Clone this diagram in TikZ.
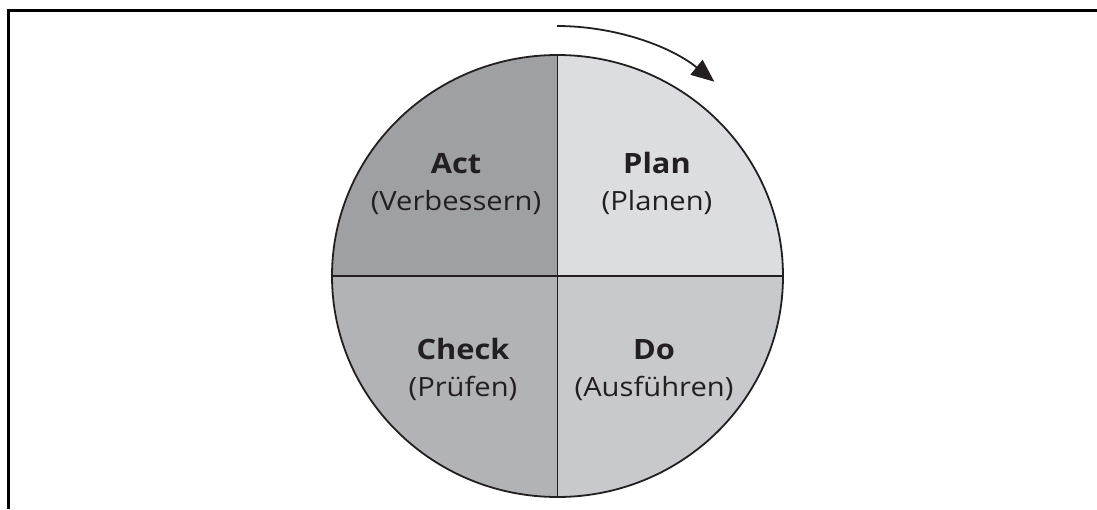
\documentclass[tikz,border=0pt]{standalone}
\usepackage{fontspec}
\setmainfont{Open Sans}[FakeStretch=1.1]
\usetikzlibrary{arrows.meta}
\definecolor{actgray}{HTML}{9FA0A4}
\definecolor{plangray}{HTML}{DCDDE0}
\definecolor{checkgray}{HTML}{B2B3B7}
\definecolor{dogray}{HTML}{C8C9CC}
\definecolor{ink}{HTML}{231F20}
\newcommand{\phase}[2]{{\bfseries\fontsize{28}{37}\selectfont #1}\\(#2)}
\begin{document}
\begin{tikzpicture}[x=1pt,y=-1pt,
  frameline/.style={line width=3pt,black},
  rim/.style={line width=1.8pt,ink},
  divider/.style={line width=1.8pt,ink},
  label/.style={align=center,text=ink,inner sep=0pt,font=\fontsize{26.5}{37}\selectfont},
  cyclearrow/.style={line width=1.8pt,ink,-{Triangle[length=23pt,width=19pt]}}]
\useasboundingbox (0,0) rectangle (1097,509);
% open frame: top edge and left edge
\draw[frameline] (7,10.5) -- (1097,10.5);
\draw[frameline] (8.5,9) -- (8.5,509);
% circle centre
\coordinate (c) at (557.5,276);
% four quadrants
\fill[plangray]  (c) -- (557.5,55) arc[start angle=90,end angle=0,x radius=225.5,y radius=-221] -- cycle;
\fill[actgray]   (c) -- (332,276) arc[start angle=180,end angle=90,x radius=225.5,y radius=-221] -- cycle;
\fill[checkgray] (c) -- (557.5,497) arc[start angle=270,end angle=180,x radius=225.5,y radius=-221] -- cycle;
\fill[dogray]    (c) -- (783,276) arc[start angle=360,end angle=270,x radius=225.5,y radius=-221] -- cycle;
\draw[rim] (c) ellipse[x radius=225.5,y radius=221];
\draw[divider] (557.5,55) -- (557.5,497);
\draw[divider] (332,276) -- (783,276);
% labels
\node[label,anchor=base] (act) at (456,210) {\phase{Act}{Verbessern}};
\node[label,anchor=base] (plan) at (657,210) {\phase{Plan}{Planen}};
\node[label,anchor=base] (check) at (463,396) {\phase{Check}{Prüfen}};
\node[label,anchor=base] (do) at (654,396) {\phase{Do}{Ausführen}};
% direction of the cycle
\coordinate (arrowstart) at (557,26);
\draw[cyclearrow] (arrowstart) arc[start angle=90,end angle=51,x radius=250,y radius=-250];
\end{tikzpicture}
\end{document}
